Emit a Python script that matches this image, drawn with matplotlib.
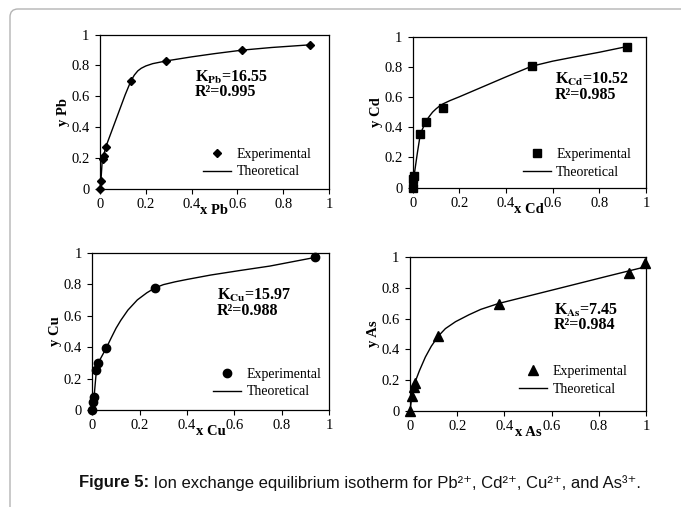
import matplotlib
matplotlib.use("Agg")
import matplotlib.pyplot as plt
from matplotlib.patches import FancyBboxPatch

plt.rcParams['font.family'] = ['Liberation Serif', 'DejaVu Serif']

# ---- data ----
ticks = [0, 0.2, 0.4, 0.6, 0.8, 1]
tick_labels = ["0", "0.2", "0.4", "0.6", "0.8", "1"]

pb_x = [0, 0.004, 0.012, 0.018, 0.025, 0.135, 0.29, 0.622, 0.915]
pb_y = [0, 0.05, 0.194, 0.214, 0.273, 0.699, 0.83, 0.902, 0.934]
pb_tx = [0, 0.004, 0.010, 0.015, 0.025, 0.05, 0.08, 0.11, 0.135, 0.15, 0.165, 0.18, 0.2, 0.23, 0.29, 0.4, 0.5, 0.622, 0.75, 0.915]
pb_ty = [0, 0.05, 0.19, 0.21, 0.27, 0.37, 0.49, 0.61, 0.70, 0.738, 0.765, 0.782, 0.797, 0.812, 0.83, 0.856, 0.877, 0.9, 0.917, 0.934]

cd_x = [0, 0.003, 0.006, 0.033, 0.057, 0.131, 0.511, 0.919]
cd_y = [0, 0.06, 0.08, 0.358, 0.433, 0.527, 0.809, 0.935]
cd_tx = [0, 0.003, 0.006, 0.02, 0.033, 0.057, 0.07, 0.085, 0.1, 0.115, 0.131, 0.16, 0.2, 0.3, 0.4, 0.511, 0.6, 0.7, 0.8, 0.919]
cd_ty = [0, 0.06, 0.08, 0.23, 0.358, 0.44, 0.47, 0.5, 0.522, 0.541, 0.556, 0.577, 0.602, 0.668, 0.734, 0.805, 0.838, 0.868, 0.897, 0.935]

cu_x = [0, 0.003, 0.007, 0.017, 0.024, 0.059, 0.264, 0.941]
cu_y = [0, 0.053, 0.082, 0.254, 0.298, 0.395, 0.776, 0.97]
cu_tx = [0, 0.003, 0.007, 0.017, 0.024, 0.059, 0.08, 0.1, 0.12, 0.15, 0.19, 0.23, 0.264, 0.3, 0.35, 0.4, 0.5, 0.62, 0.75, 0.941]
cu_ty = [0, 0.053, 0.082, 0.254, 0.298, 0.395, 0.46, 0.52, 0.57, 0.635, 0.7, 0.745, 0.776, 0.797, 0.815, 0.83, 0.858, 0.886, 0.915, 0.97]

as_x = [0, 0.008, 0.015, 0.022, 0.119, 0.375, 0.928, 0.997]
as_y = [0, 0.098, 0.156, 0.184, 0.485, 0.698, 0.897, 0.958]
as_tx = [0, 0.008, 0.015, 0.022, 0.04, 0.065, 0.09, 0.119, 0.15, 0.193, 0.25, 0.3, 0.375, 0.5, 0.62, 0.75, 0.833, 0.928, 1.0]
as_ty = [0, 0.098, 0.156, 0.19, 0.262, 0.35, 0.42, 0.485, 0.535, 0.58, 0.625, 0.66, 0.698, 0.746, 0.792, 0.842, 0.874, 0.91, 0.937]

W, H = 681, 507
fig = plt.figure(figsize=(W / 100, H / 100), dpi=100)

# light rounded frame around the figure content
frame = FancyBboxPatch((0.10, -0.3), 7.5, 5.07 - 0.09 + 0.3,
                       boxstyle="round,pad=0,rounding_size=0.08",
                       transform=fig.dpi_scale_trans, fill=False,
                       edgecolor="#b4b4b4", linewidth=1.0, clip_on=False)
fig.patches.append(frame)


def px_axes(left, top, right, bottom):
    return fig.add_axes([left / W, 1 - bottom / H, (right - left) / W, (bottom - top) / H])


panels = [
    # (box, x, y, tx, ty, marker, msize, name, K, R2, txt_pos, leg_pos)
    ((100, 34.7, 329, 188.7), pb_x, pb_y, pb_tx, pb_ty, 'D', 4.5, 'Pb', '16.55', '0.995', (0.415, 0.725), (0.45, 0.167)),
    ((412.7, 36.7, 646, 187.7), cd_x, cd_y, cd_tx, cd_ty, 's', 6, 'Cd', '10.52', '0.985', (0.61, 0.715), (0.472, 0.162)),
    ((92.4, 252.7, 329, 410), cu_x, cu_y, cu_tx, cu_ty, 'o', 6, 'Cu', '15.97', '0.988', (0.525, 0.73), (0.511, 0.172)),
    ((410, 257, 646, 411), as_x, as_y, as_tx, as_ty, '^', 7, 'As', '7.45', '0.984', (0.61, 0.656), (0.462, 0.2)),
]

for box, x, y, tx, ty, mk, ms, name, k, r2, tpos, lpos in panels:
    ax = px_axes(*box)
    ax.plot(x, y, linestyle='none', marker=mk, markersize=ms, color='black',
            clip_on=False, zorder=3, label='Experimental')
    ax.plot(tx, ty, color='black', linewidth=1.0, clip_on=False, label='Theoretical')
    ax.set_xlim(0, 1)
    ax.set_ylim(0, 1)
    ax.set_xticks(ticks)
    ax.set_xticklabels(tick_labels)
    ax.set_yticks(ticks)
    ax.set_yticklabels(tick_labels)
    ax.tick_params(direction='out', length=3.5, width=0.8, labelsize=10.5, pad=4)
    ax.tick_params(axis='x', pad=3)
    for s in ax.spines.values():
        s.set_linewidth(0.9)
    ax.set_xlabel('x ' + name, fontsize=10.5, fontweight='bold', labelpad=-5)
    ax.set_ylabel('y ' + name, fontsize=10.5, fontweight='bold', labelpad=1)
    ax.text(tpos[0], tpos[1], r'K$_{\mathbf{%s}}$=%s' % (name, k), transform=ax.transAxes,
            fontsize=11.5, fontweight='bold', va='center', ha='left', math_fontfamily='stix')
    ax.text(tpos[0], tpos[1] - 0.1, 'R²=%s' % r2, transform=ax.transAxes,
            fontsize=11.5, fontweight='bold', va='center', ha='left')
    ax.legend(loc='center left', bbox_to_anchor=lpos, frameon=False, fontsize=10,
              borderpad=0, borderaxespad=0, handlelength=2.0, handletextpad=0.4,
              labelspacing=0.35, markerscale=1.0)

# caption: bold lead-in followed by the normal text, centred as one line
cap_y = 1 - 483 / H
sans = ['Liberation Sans', 'DejaVu Sans']
t1 = fig.text(0, cap_y, 'Figure 5:', fontsize=12, fontweight='bold', family=sans,
              va='center', ha='left', color='#111111')
t2 = fig.text(0, cap_y, ' Ion exchange equilibrium isotherm for Pb²⁺, Cd²⁺, Cu²⁺, and As³⁺.',
              fontsize=12, family=sans, va='center', ha='left', color='#111111')
r = fig.canvas.get_renderer()
w1 = t1.get_window_extent(r).width
w2 = t2.get_window_extent(r).width
x0 = 360 - (w1 + w2) / 2
t1.set_x(x0 / W)
t2.set_x((x0 + w1) / W)

fig.savefig('out.png', dpi=100)
